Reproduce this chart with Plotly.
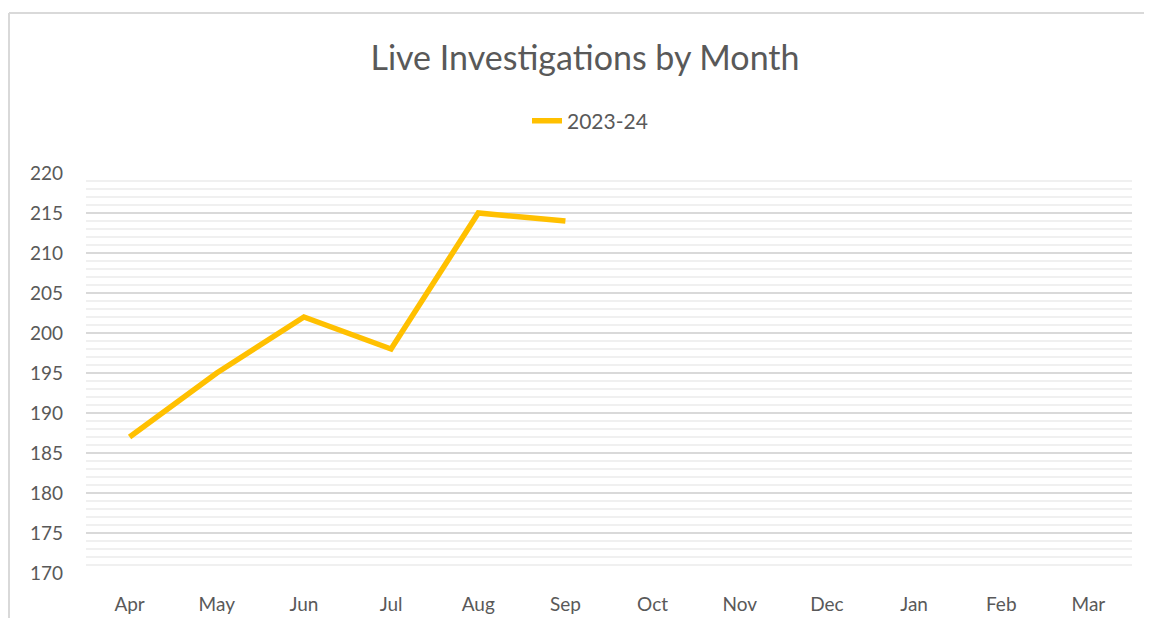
import plotly.graph_objects as go

months = ["Apr", "May", "Jun", "Jul", "Aug", "Sep", "Oct", "Nov", "Dec", "Jan", "Feb", "Mar"]
values_2023_24 = [187, 195, 202, 198, 215, 214, None, None, None, None, None, None]
series_name = "2023-24"
y_ticks = [170, 175, 180, 185, 190, 195, 200, 205, 210, 215, 220]

# page body has an 8px margin, so the figure starts at reference pixel (8, 8)
OFF = 8
W, H = 1152 - 2 * OFF, 626 - 2 * OFF
L, T = 86 - OFF, 173 - OFF
R = W - (1132 - OFF)
B = H - (573 - OFF)
pw, ph = W - L - R, H - T - B
FONT = "Lato, Open Sans, sans-serif"
GREY = "#595959"

fig = go.Figure()
fig.add_trace(go.Scatter(
    x=months, y=values_2023_24, mode="lines", name=series_name,
    line=dict(color="#FFC000", width=5.5), connectgaps=False,
))

def px_x(p):
    return (p - OFF - L) / pw

def px_y(p):
    return (H - B - (p - OFF)) / ph

shapes = [
    dict(type="line", xref="paper", yref="paper", x0=px_x(9), x1=px_x(1170),
         y0=px_y(13), y1=px_y(13), line=dict(color="#d9d9d9", width=2), layer="below"),
    dict(type="line", xref="paper", yref="paper", x0=px_x(9), x1=px_x(9),
         y0=px_y(13), y1=px_y(640), line=dict(color="#d9d9d9", width=2), layer="below"),
]

fig.update_layout(
    width=W, height=H,
    margin=dict(l=L, r=R, t=T, b=B, autoexpand=False),
    paper_bgcolor="white", plot_bgcolor="white",
    title=dict(text="Live Investigations by Month", x=(585 - OFF) / W, xanchor="center",
               y=1 - (58 - OFF) / H, yanchor="middle",
               font=dict(family=FONT, size=34, color=GREY)),
    legend=dict(orientation="h", x=px_x(590), xanchor="center", y=px_y(121), yanchor="middle",
                font=dict(family=FONT, size=21, color=GREY),
                bgcolor="rgba(0,0,0,0)"),
    showlegend=True,
    shapes=shapes,
    xaxis=dict(type="category", categoryorder="array", categoryarray=months,
               range=[-0.5, 11.5], showgrid=False, showline=False, zeroline=False,
               ticks="", tickfont=dict(family=FONT, size=19, color=GREY),
               ticklabelstandoff=18, fixedrange=True, automargin=False),
    yaxis=dict(range=[170, 220], tickvals=y_ticks, showgrid=True, gridcolor="#d9d9d9",
               gridwidth=1.5, zeroline=False, showline=False, ticks="",
               tickfont=dict(family=FONT, size=19, color=GREY), ticklabelstandoff=22,
               minor=dict(dtick=1, showgrid=True, gridcolor="#f0f0f0", gridwidth=1.5),
               fixedrange=True, automargin=False),
)

fig.write_html("out.html")
